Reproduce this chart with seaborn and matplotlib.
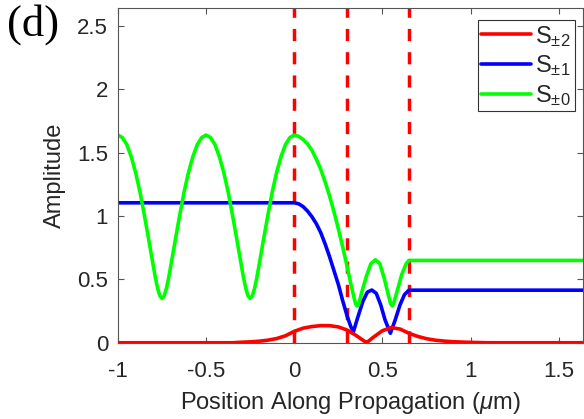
import numpy as np
import pandas as pd
import matplotlib
matplotlib.use('Agg')
import matplotlib.pyplot as plt
import seaborn as sns

# values
green_x = [-1.0, -0.975, -0.95, -0.925, -0.9, -0.875, -0.85, -0.825, -0.8, -0.7875,
           -0.775, -0.7625, -0.75, -0.7375, -0.725, -0.7125, -0.7, -0.675, -0.65, -0.625,
           -0.6, -0.575, -0.55, -0.525, -0.5, -0.475, -0.45, -0.425, -0.4, -0.375,
           -0.35, -0.325, -0.3, -0.2875, -0.275, -0.2625, -0.25, -0.2375, -0.225, -0.2125,
           -0.2, -0.175, -0.15, -0.125, -0.1, -0.075, -0.05, -0.025, 0.0,
           0.025, 0.05, 0.075, 0.1, 0.125, 0.15, 0.175, 0.2, 0.225, 0.25, 0.275, 0.3,
           0.32, 0.34, 0.349, 0.356, 0.363, 0.372, 0.385, 0.41,
           0.435, 0.46, 0.485, 0.51, 0.535, 0.546, 0.556, 0.566, 0.58, 0.61, 0.635, 0.65,
           1.0, 1.65]
green_y = [1.64, 1.62, 1.565, 1.47, 1.345, 1.19, 1.005, 0.81, 0.61, 0.512,
           0.43, 0.371, 0.35, 0.371, 0.43, 0.512, 0.61, 0.81, 1.005, 1.19,
           1.345, 1.47, 1.565, 1.62, 1.64, 1.62, 1.565, 1.47, 1.345, 1.19,
           1.005, 0.81, 0.61, 0.512, 0.43, 0.371, 0.35, 0.371, 0.43, 0.512,
           0.61, 0.81, 1.005, 1.19, 1.345, 1.47, 1.565, 1.62, 1.64,
           1.63, 1.605, 1.57, 1.52, 1.45, 1.37, 1.27, 1.16, 1.035, 0.9, 0.755, 0.6,
           0.47, 0.35, 0.305, 0.29, 0.3, 0.34, 0.41, 0.53,
           0.625, 0.655, 0.625, 0.51, 0.37, 0.31, 0.29, 0.32, 0.39, 0.54, 0.625, 0.65,
           0.65, 0.65]

blue_x = [-1.0, 0.0, 0.025, 0.05, 0.075, 0.1, 0.125, 0.15, 0.175, 0.2, 0.225, 0.25,
          0.275, 0.3, 0.32, 0.335,
          0.36, 0.39, 0.415, 0.44, 0.465, 0.49, 0.515, 0.545, 0.57, 0.6, 0.625, 0.65,
          1.0, 1.65]
blue_y = [1.105, 1.105, 1.097, 1.075, 1.04, 0.995, 0.94, 0.87, 0.78, 0.68, 0.57, 0.46,
          0.33, 0.21, 0.13, 0.085,
          0.2, 0.33, 0.4, 0.416, 0.39, 0.3, 0.18, 0.075, 0.17, 0.3, 0.38, 0.415,
          0.415, 0.415]

red_x = [-1.0, -0.35, -0.3, -0.25, -0.2, -0.15, -0.1, -0.05, 0.0, 0.05, 0.1, 0.15,
         0.2, 0.25, 0.3, 0.35, 0.4, 0.41, 0.45, 0.5, 0.55, 0.6, 0.65, 0.7, 0.75,
         0.8, 0.85, 0.9, 1.0, 1.1, 1.65]
red_y = [0.0, 0.0, 0.004, 0.007, 0.012, 0.02, 0.033, 0.055, 0.09, 0.115, 0.128, 0.135,
         0.135, 0.125, 0.1, 0.058, 0.01, 0.0, 0.045, 0.095, 0.12, 0.108, 0.075, 0.05, 0.032,
         0.02, 0.013, 0.008, 0.003, 0.0, 0.0]

boundaries = [0.0, 0.3, 0.65]
x_ticks = [-1, -0.5, 0, 0.5, 1, 1.5]
x_tick_labels = ['-1', '-0.5', '0', '0.5', '1', '1.5']
y_ticks = [0, 0.5, 1, 1.5, 2, 2.5]
y_tick_labels = ['0', '0.5', '1', '1.5', '2', '2.5']

sns.set_theme(style='white')
plt.rcParams['font.family'] = ['Liberation Sans', 'DejaVu Sans']
plt.rcParams['mathtext.fontset'] = 'custom'
plt.rcParams['mathtext.rm'] = 'Liberation Sans'
plt.rcParams['mathtext.it'] = 'Liberation Sans:italic'

fig = plt.figure(figsize=(5.84, 4.19), dpi=100)
ax = fig.add_axes([0.202, 0.182, 0.797, 0.798])

for b in boundaries:
    ax.axvline(b, color='#ff0000', lw=2.5, linestyle=(0, (3.5, 3.2)), zorder=1)

sns.lineplot(x=red_x, y=red_y, color='#ff0000', lw=2.6, estimator=None,
             label=r'$\mathregular{S_{\pm2}}$', ax=ax, zorder=3)
sns.lineplot(x=blue_x, y=blue_y, color='#0000ff', lw=2.6, estimator=None,
             label=r'$\mathregular{S_{\pm1}}$', ax=ax, zorder=2)
sns.lineplot(x=green_x, y=green_y, color='#00ff00', lw=2.6, estimator=None,
             label=r'$\mathregular{S_{\pm0}}$', ax=ax, zorder=2)

ax.set_xlim(-1, 1.64)
ax.set_ylim(0, 2.64)
ax.set_xticks(x_ticks)
ax.set_xticklabels(x_tick_labels)
ax.set_yticks(y_ticks)
ax.set_yticklabels(y_tick_labels)
ax.tick_params(direction='in', length=4, width=0.8, colors='#555555',
               labelcolor='#262626', labelsize=16, top=True, right=True,
               bottom=True, left=True)
ax.tick_params(axis='x', pad=13)
ax.tick_params(axis='y', pad=7)
for sp in ax.spines.values():
    sp.set_color('#555555')
    sp.set_linewidth(0.8)

ax.set_xlabel(r'Position Along Propagation ($\mu$m)', fontsize=17, color='#262626',
              labelpad=6)
ax.set_ylabel('Amplitude', fontsize=17, color='#262626', labelpad=8)

leg = ax.legend(loc='upper right', bbox_to_anchor=(0.981, 0.965), fontsize=17,
                frameon=True, fancybox=False, edgecolor='#333333', framealpha=1,
                handlelength=2.1, handletextpad=0.2, borderpad=0.15,
                labelspacing=0.2, borderaxespad=0)
leg.get_frame().set_linewidth(0.8)

fig.text(0.012, 0.915, '(d)', family='Liberation Serif', fontsize=32, color='black')

fig.savefig('out.png', dpi=100)
